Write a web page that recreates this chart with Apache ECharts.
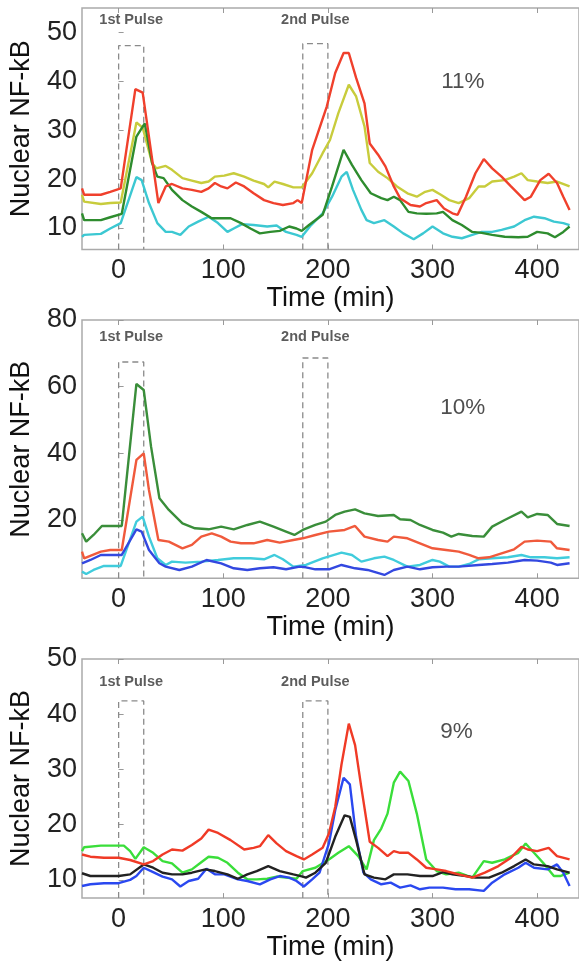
<!DOCTYPE html>
<html>
<head>
<meta charset="utf-8">
<script src="https://cdn.jsdelivr.net/npm/echarts@6/dist/echarts.min.js"></script>
<style>html,body{margin:0;padding:0;background:#fff}#c{width:579px;height:962px}</style>
</head>
<body>
<div id="c"></div>
<script>
// ---------- data (time in min, nuclear NF-kB) ----------
const xTicks = [0, 100, 200, 300, 400];
const yTicksA = [10, 20, 30, 40, 50];
const yTicksB = [20, 40, 60, 80];
const pulseWindows = [[0, 24], [176, 200]];
const pulseNames = ['1st Pulse', '2nd Pulse'];
const panelLabels = ['11%', '10%', '9%'];

// Panel 1 (11%)
const p1Red = [[-35,18.1],[-33,16.8],[-17,16.8],[-8,17.4],[2,18.1],[16,38.4],[23,37.7],[38,15.1],[45,18.5],[51,19],[61,18.1],[70,17.8],[79,17.4],[86,18.1],[92,19.2],[98,18.5],[104,18.1],[112,19.3],[120,18.5],[129,17.1],[139,15.7],[148,15.1],[157,14.7],[167,15.1],[171,15.7],[175,15.1],[185,26],[199,34.9],[207,41.7],[215,45.8],[220,45.8],[227,40.7],[235,35.5],[240,27.3],[248,25],[255,22.6],[263,18.5],[269,16.1],[279,14.7],[288,14.4],[294,15.1],[304,15.7],[311,14],[319,13],[324,12.7],[332,16.4],[341,21.2],[349,24.1],[357,22.2],[366,20.5],[375,18.5],[388,15.7],[394,16.4],[403,19.8],[411,21.1],[419,19.2],[425,16.4],[431,13.7]];
const p1Yellow = [[-35,16.8],[-33,15.4],[-17,14.9],[-8,15.1],[2,15.2],[17,31.6],[23,30.5],[32,23.3],[36,22.2],[45,22.7],[51,21.9],[61,20.2],[70,19.7],[79,19.2],[86,19.5],[92,20.5],[101,20.7],[110,21.2],[120,20.5],[129,19.7],[139,19],[143,18.3],[149,19.5],[157,19],[167,18.3],[175,18.3],[185,21.2],[195,25.3],[202,28],[210,33.5],[220,39.3],[227,36.9],[235,30.8],[240,23.3],[248,21.5],[257,20.2],[266,18.5],[276,17.1],[285,16.4],[293,17.4],[300,17.8],[308,16.8],[316,15.7],[325,15.1],[335,16.1],[344,18.5],[350,18.5],[357,19.5],[369,19.8],[378,20.5],[385,21.2],[391,19.8],[400,19.5],[410,19.2],[419,19.5],[431,18.5]];
const p1Green = [[-35,13],[-33,11.6],[-17,11.6],[-8,12.2],[3,12.9],[17,28.7],[25,31.4],[32,23.3],[37,20.5],[43,20.2],[51,17.8],[61,15.7],[70,14.4],[79,13.3],[89,12],[98,12],[107,12],[117,11],[126,9.9],[135,8.9],[145,9.2],[154,9.4],[163,10.3],[170,9.9],[175,9.4],[182,10.6],[195,12.7],[204,18.5],[215,26],[223,22.9],[232,19.8],[241,17.1],[251,16.1],[257,15.7],[263,16.4],[269,15.7],[277,13.3],[285,13],[294,12.9],[304,13],[310,13.3],[319,11.6],[328,10.6],[338,9.2],[347,9],[357,8.6],[369,8.2],[382,8.1],[391,8.2],[400,9.2],[410,8.9],[417,8.1],[425,9.2],[431,10.3]];
const p1Cyan = [[-35,8.2],[-33,8.6],[-17,8.8],[-8,9.9],[2,11],[17,20.4],[22,19.8],[29,15.1],[37,11],[45,9.2],[51,9.2],[59,8.6],[67,10.3],[76,11.3],[86,12.3],[95,11],[104,9.2],[110,9.9],[118,10.8],[129,10.6],[142,10.3],[151,10.5],[160,9.2],[170,8.6],[175,8.2],[184,10.6],[195,13],[204,16.4],[213,20.5],[218,21.5],[224,17.8],[232,13.7],[237,11.6],[244,11],[254,11.6],[263,10.3],[272,8.9],[282,7.7],[291,8.9],[300,10.3],[310,8.9],[319,8.2],[328,7.9],[338,8.6],[347,9.2],[357,9.2],[366,9.6],[378,10.3],[388,11.6],[397,12.3],[407,12],[416,11.3],[425,11],[431,10.6]];

// Panel 2 (10%)
const p2Green = [[-35,16],[-31,13.5],[-24,15.5],[-16,18.2],[-8,18.2],[3,18.2],[17,60.8],[24,59],[31,42],[39,26.5],[48,23],[61,19],[73,17.5],[86,17.2],[98,18],[110,17.2],[123,18.5],[135,19.5],[148,18],[160,16.5],[168,15.5],[176,17],[188,18.5],[198,19.5],[207,21.5],[216,22.5],[226,23.2],[235,22],[248,21.2],[263,21.5],[269,20.2],[279,20],[288,18.5],[300,17],[310,16.2],[318,15],[325,15.8],[338,15.2],[349,15],[357,18],[369,20],[385,22.5],[391,20.8],[400,21.8],[410,21.5],[419,18.8],[431,18.2]];
const p2Red = [[-35,10.5],[-33,8.5],[-17,10.5],[-8,11],[3,11],[17,38],[24,40],[29,29],[38,14],[48,13.5],[61,11.5],[70,12.5],[79,15],[89,16],[98,15],[107,13.5],[117,13],[129,13],[142,14],[154,13.2],[167,14],[176,14.5],[188,15.5],[201,16.5],[216,17],[226,18.2],[235,15],[248,14],[257,13.5],[263,15],[276,14.5],[288,13],[300,11.5],[313,11],[325,10.5],[335,9.5],[344,8.5],[354,8.8],[366,10],[378,11.2],[388,13.5],[400,13.8],[413,13.5],[419,11.5],[431,11]];
const p2Cyan = [[-35,4.5],[-31,3.8],[-24,5],[-14,6.2],[2,6.2],[17,19.5],[23,21],[29,15],[37,8.5],[45,6.5],[51,7.5],[64,7.2],[79,7.5],[95,8],[110,8.5],[126,8.5],[139,8.2],[149,9.5],[157,8.2],[167,6],[179,6.5],[195,8.5],[213,10.2],[223,9.5],[232,7.5],[244,8.5],[254,9],[263,8],[276,6],[288,6.5],[300,8],[307,7.5],[316,6],[325,6],[335,6.8],[344,8.2],[357,8.5],[372,8.8],[385,9.5],[394,8.8],[407,8.8],[419,8.5],[431,8.8]];
const p2Blue = [[-35,7],[-27,8],[-17,9.5],[3,9.5],[17,17.2],[22,16.5],[29,11],[39,7],[45,6],[58,5],[70,6],[84,8],[98,7],[110,5.5],[123,5],[135,5.5],[148,5.8],[160,5.2],[173,6],[179,5.8],[188,5.2],[201,5.2],[213,6.5],[226,5.5],[238,5],[254,3.5],[263,5],[276,6],[288,5.2],[300,5.8],[313,6],[325,6],[344,6.5],[357,6.8],[372,7.2],[388,8],[400,7.8],[413,7.2],[419,6.5],[431,7]];

// Panel 3 (9%)
const p3Red = [[-35,14.6],[-27,14.2],[-14,14],[0,14],[11,13.6],[24,12.8],[33,13.4],[42,14.6],[51,15.5],[61,15.3],[70,16.3],[79,17.5],[86,19.1],[95,18.5],[107,17.2],[120,15.5],[129,15.8],[135,16.1],[143,18.1],[151,16.6],[160,15.2],[170,14.3],[177,13.7],[185,14.6],[195,15.8],[201,18.4],[207,23.2],[213,30.9],[220,38.3],[226,34.4],[232,26.7],[240,16.9],[248,15.8],[257,14.3],[263,15.2],[269,14.9],[277,14.9],[285,13.7],[294,12.2],[304,11.9],[313,11.6],[325,11],[338,10.4],[350,11.3],[363,12.5],[375,14],[385,16],[391,15.5],[400,15.2],[411,15.8],[419,14.3],[431,13.7]];
const p3Green = [[-35,15.2],[-33,15.9],[-17,16.2],[0,16.2],[5,16.2],[11,15.2],[16,13.8],[24,15.9],[33,14.9],[42,13.4],[51,13],[61,11.3],[70,11.9],[79,13.2],[86,14.2],[95,14],[104,13.1],[114,11.3],[123,10.1],[132,10.1],[142,10.2],[151,10.6],[160,10.4],[170,10.2],[176,11.6],[188,12.2],[201,13.7],[210,14.9],[220,16.1],[229,14.3],[237,11.9],[244,17.2],[251,19.3],[257,22],[263,27.6],[269,29.6],[277,27.9],[285,22],[294,13.7],[304,11.6],[313,11],[325,11.3],[338,10.4],[349,13.4],[357,13.1],[369,13.7],[382,14.9],[389,16.6],[397,14.9],[407,12.8],[416,10.7],[422,10.7],[431,11.3]];
const p3Black = [[-35,11.2],[-27,10.7],[-14,10.7],[0,10.7],[11,11],[24,12.8],[33,12.2],[42,11.3],[51,11],[61,11],[70,11.3],[83,11.9],[92,11.6],[104,11],[114,10.2],[123,11],[132,11.6],[143,12.5],[154,11.6],[167,11],[176,10.6],[179,10.4],[188,11.3],[198,13.1],[207,17.8],[216,21.7],[221,21.4],[227,17.2],[235,11],[244,10.4],[255,10.1],[263,11],[276,11],[288,10.7],[300,10.7],[310,11.4],[319,11],[332,10.7],[341,10.4],[354,10.4],[366,11.3],[378,12.5],[389,13.7],[397,12.8],[410,12.5],[419,11.9],[431,11.3]];
const p3Blue = [[-35,8.9],[-27,9.2],[-14,9.4],[0,9.4],[11,10],[17,10.7],[24,12.2],[33,11.4],[42,10.6],[51,10.1],[59,8.8],[67,9.8],[76,10.2],[84,12],[92,11],[101,11],[114,10.1],[123,9.8],[135,9.2],[145,10.1],[154,10.7],[163,10.4],[170,9.8],[177,8.8],[185,10.1],[192,11.3],[201,16.6],[207,22.6],[215,28.5],[221,27.3],[227,17.8],[234,11.3],[241,10.1],[251,9.2],[260,9.5],[269,8.6],[279,9],[288,8.3],[297,8.6],[310,8.6],[322,8.3],[335,8.3],[349,8],[357,9.5],[369,11],[382,12.2],[389,13.1],[397,12.2],[410,11.9],[419,12.8],[425,11.3],[431,8.9]];

// ---------- layout / style ----------
const FONT = '"Liberation Sans", Arial, sans-serif';
const panels = [
  { top: 8,   height: 241.5, yMin: 5.6, yMax: 55, yTicks: yTicksA, boxTop: [47.3, 47.7], pulseLabelY: 52.6, pct: [329, 40],
    lines: [[p1Yellow,'#c8cc3c'],[p1Cyan,'#3cc8d2'],[p1Green,'#2e8c2e'],[p1Red,'#f0402c']] },
  { top: 320, height: 258.3, yMin: 2.5, yMax: 80, yTicks: yTicksB, boxTop: [67.4, 68.6], pulseLabelY: 74.9, pct: [329, 53.6],
    lines: [[p2Cyan,'#40ccdc'],[p2Blue,'#3348e0'],[p2Red,'#f05a3c'],[p2Green,'#3a8e3a']] },
  { top: 659, height: 243.7, yMin: 6.7, yMax: 50, yTicks: yTicksA, boxTop: [42.4, 42.4], pulseLabelY: 45.8, pct: [323, 36.8],
    lines: [[p3Green,'#3ade3a'],[p3Blue,'#2a48f0'],[p3Black,'#222222'],[p3Red,'#f03a26']] }
];

const grid = [], xAxis = [], yAxis = [], series = [];
panels.forEach((p, i) => {
  grid.push({ left: 81, width: 508, top: p.top, height: p.height, show: true,
    borderColor: '#aaaaaa', borderWidth: 1.5, backgroundColor: 'transparent' });
  xAxis.push({ type: 'value', gridIndex: i, min: -35, max: 440, position: 'bottom',
    axisLine: { show: false }, splitLine: { show: false },
    axisTick: { inside: true, length: 5, customValues: xTicks, lineStyle: { color: '#999' } },
    axisLabel: { customValues: xTicks, fontSize: 27, color: '#222', fontFamily: FONT, margin: 8 },
    name: 'Time (min)', nameLocation: 'middle', nameGap: 32,
    nameTextStyle: { fontSize: 27, color: '#111', fontFamily: FONT } });
  xAxis.push({ type: 'value', gridIndex: i, min: -35, max: 440, position: 'top',
    axisLine: { show: false }, splitLine: { show: false },
    axisTick: { inside: true, length: 5, customValues: xTicks, lineStyle: { color: '#999' } },
    axisLabel: { show: false } });
  yAxis.push({ type: 'value', gridIndex: i, min: p.yMin, max: p.yMax,
    axisLine: { show: false }, splitLine: { show: false },
    axisTick: { inside: true, length: 5, customValues: p.yTicks, lineStyle: { color: '#999' } },
    axisLabel: { customValues: p.yTicks, fontSize: 27, color: '#222', fontFamily: FONT, margin: 5 },
    name: 'Nuclear NF-kB', nameLocation: 'middle', nameGap: 47, nameRotate: 90,
    nameTextStyle: { fontSize: 27, color: '#111', fontFamily: FONT } });
  const xi = i * 2;
  // pulse windows (dashed boxes)
  pulseWindows.forEach((w, k) => {
    series.push({ type: 'line', xAxisIndex: xi, yAxisIndex: i, symbol: 'none', silent: true, z: 1,
      lineStyle: { color: '#8a8a8a', width: 1.3, type: [6, 4] },
      data: [[w[0], p.yMin], [w[0], p.boxTop[k]], [w[1], p.boxTop[k]], [w[1], p.yMin]] });
    series.push({ type: 'scatter', xAxisIndex: xi, yAxisIndex: i, symbolSize: 0, silent: true,
      data: [[(w[0] + w[1]) / 2, p.pulseLabelY]],
      label: { show: true, position: 'inside', formatter: pulseNames[k], fontSize: 14.5,
        fontWeight: 'bold', color: '#333', fontFamily: FONT } });
  });
  p.lines.forEach(([d, c]) => {
    series.push({ type: 'line', xAxisIndex: xi, yAxisIndex: i, data: d, showSymbol: false,
      symbol: 'none', lineStyle: { color: c, width: 2.4 }, z: 3 });
  });
  series.push({ type: 'scatter', xAxisIndex: xi, yAxisIndex: i, symbolSize: 0, silent: true,
    data: [p.pct], label: { show: true, position: 'inside', formatter: panelLabels[i],
      fontSize: 22.5, color: '#222', fontFamily: FONT } });
});

const chart = echarts.init(document.getElementById('c'), null, { renderer: 'canvas' });
chart.setOption({ animation: false, backgroundColor: '#fff', grid, xAxis, yAxis, series });
</script>
</body>
</html>
